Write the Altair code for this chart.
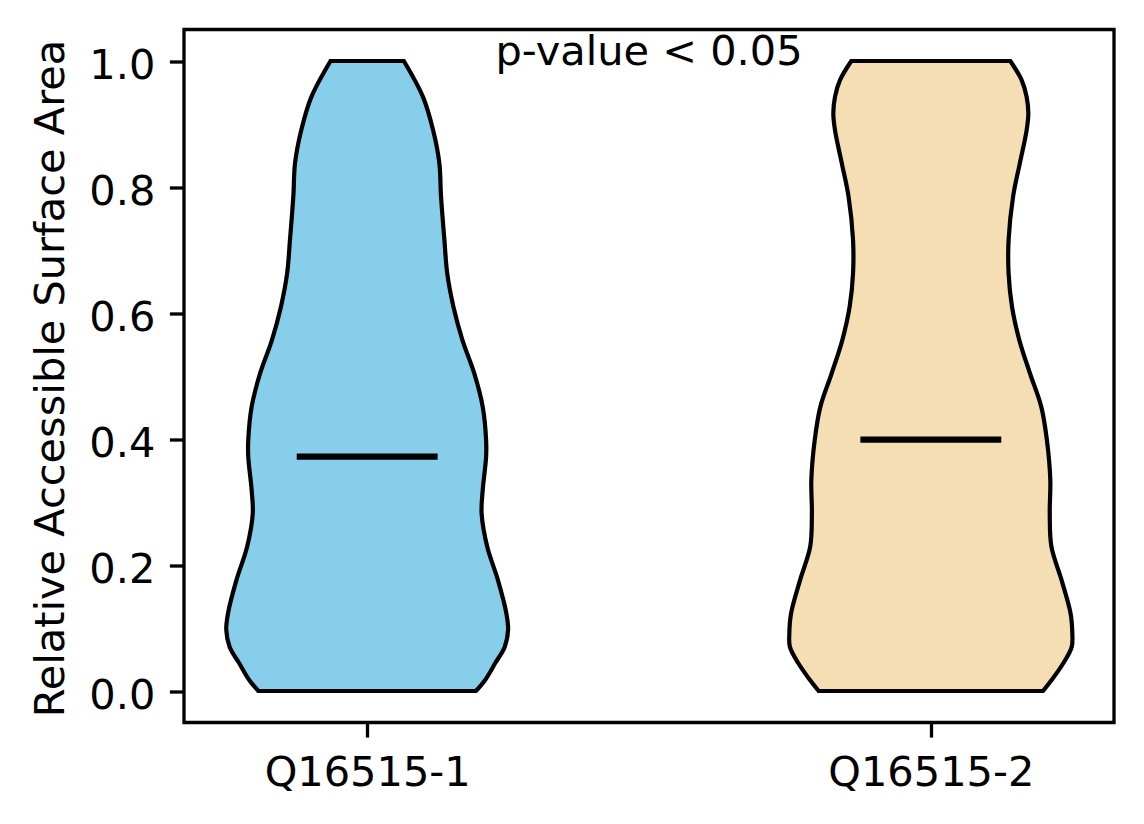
import altair as alt
import pandas as pd

# ---- data ----
names = ["Q16515-1", "Q16515-2"]
positions = [1, 2]
colors = ["#87CEEB", "#F5DEB3"]

# violin 1: y levels and half-widths (x-axis units)
v1_y = [0.000, 0.017, 0.044, 0.070, 0.097, 0.123, 0.176, 0.229, 0.282, 0.319,
        0.372, 0.398, 0.451, 0.504, 0.557, 0.610, 0.663, 0.716, 0.785, 0.838,
        0.890, 0.943, 1.000]
v1_hw = [0.193, 0.209, 0.227, 0.244, 0.250, 0.247, 0.232, 0.213, 0.203, 0.205,
         0.211, 0.211, 0.205, 0.190, 0.169, 0.153, 0.142, 0.137, 0.131, 0.128,
         0.117, 0.099, 0.065]

# violin 2
v2_y = [0.000, 0.017, 0.044, 0.070, 0.092, 0.123, 0.176, 0.229, 0.282, 0.335,
        0.398, 0.451, 0.504, 0.557, 0.610, 0.663, 0.716, 0.785, 0.838, 0.890,
        0.917, 0.943, 0.970, 1.000]
v2_hw = [0.199, 0.214, 0.235, 0.250, 0.251, 0.248, 0.232, 0.214, 0.211, 0.212,
         0.206, 0.196, 0.176, 0.157, 0.144, 0.138, 0.138, 0.146, 0.158, 0.170,
         0.173, 0.170, 0.161, 0.141]

medians = [0.372, 0.399]
median_half = 0.125

annotation = "p-value < 0.05"
annot_x = 1.5
annot_y = 1.0

y_title = "Relative Accessible Surface Area"
y_ticks = [0.0, 0.2, 0.4, 0.6, 0.8, 1.0]

# ---- tables ----
rows = []
for name, pos, ys, hws in [(names[0], positions[0], v1_y, v1_hw),
                           (names[1], positions[1], v2_y, v2_hw)]:
    for yv, hw in zip(ys, hws):
        rows.append({"group": name, "y": yv, "x_lo": pos - hw, "x_hi": pos + hw})
violin_df = pd.DataFrame(rows)

med_df = pd.DataFrame({
    "group": names,
    "median": medians,
    "x_lo": [p - median_half for p in positions],
    "x_hi": [p + median_half for p in positions],
})

text_df = pd.DataFrame({"x": [annot_x], "y": [annot_y], "t": [annotation]})

FONT = "DejaVu Sans"
FS = 41.5

label_expr = " : ".join(
    [f"datum.value == {p} ? '{n}'" for p, n in zip(positions, names)] + ["''"]
)

xscale = alt.Scale(domain=[0.675, 2.325], nice=False, zero=False)
yscale = alt.Scale(domain=[-0.05, 1.05], nice=False, zero=False)

xaxis = alt.Axis(values=positions, labelExpr=label_expr, title=None, grid=False,
                 domain=False, tickSize=14.6, tickWidth=3.3, tickColor="black",
                 labelFont=FONT, labelFontSize=FS, labelColor="black",
                 labelBaseline="alphabetic", labelPadding=48, labelAngle=0,
                 labelLimit=0)
yaxis = alt.Axis(values=y_ticks, format=".1f", title=y_title, grid=False,
                 domain=False, tickSize=14.6, tickWidth=3.3, tickColor="black",
                 labelFont=FONT, labelFontSize=FS, labelColor="black",
                 labelPadding=14.6, labelBaseline="alphabetic", labelOffset=17,
                 labelLimit=0,
                 titleFont=FONT, titleFontSize=FS, titleFontWeight="normal",
                 titleColor="black", titleX=-120.7, titleY=348.5,
                 titleBaseline="alphabetic", titleAngle=270, titleLimit=0)

violins = alt.Chart(violin_df).mark_area(
    orient="horizontal", interpolate="catmull-rom", stroke="black",
    strokeWidth=4.2, opacity=1, fillOpacity=1, strokeJoin="miter"
).encode(
    y=alt.Y("y:Q", scale=yscale, axis=yaxis),
    x=alt.X("x_lo:Q", scale=xscale, axis=xaxis),
    x2="x_hi:Q",
    fill=alt.Fill("group:N", scale=alt.Scale(domain=names, range=colors), legend=None),
)

med_lines = alt.Chart(med_df).mark_rule(color="black", strokeWidth=6.25, strokeCap="butt").encode(
    y=alt.Y("median:Q", scale=yscale),
    x=alt.X("x_lo:Q", scale=xscale),
    x2="x_hi:Q",
)

annot = alt.Chart(text_df).mark_text(
    font=FONT, fontSize=FS, color="black", align="center", baseline="alphabetic", dy=4
).encode(
    x=alt.X("x:Q", scale=xscale),
    y=alt.Y("y:Q", scale=yscale),
    text="t:N",
)

chart = alt.layer(violins, med_lines, annot).properties(
    width=930, height=693,
    autosize=alt.AutoSizeParams(type="none"),
    padding={"left": 176, "top": 21.5, "right": 22, "bottom": 93},
    background="white",
).configure_view(stroke="black", strokeWidth=3.3)

chart.save("out.html", embed_options={"renderer": "svg", "actions": False})
